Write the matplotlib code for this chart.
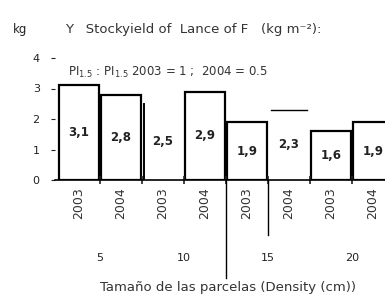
import matplotlib.pyplot as plt

years = ["2003", "2004", "2003", "2004", "2003", "2004", "2003", "2004"]
values = [3.1, 2.8, 2.5, 2.9, 1.9, 2.3, 1.6, 1.9]
groups = ["5", "10", "15", "20"]
outlined = [True, True, False, True, True, False, True, True]

fig = plt.figure(figsize=(3.85, 3.0), dpi=100)
ax = fig.add_axes([55 / 385, 0.4, 330 / 385, 122 / 300])

x = list(range(len(values)))
width = 0.95

# bars: white fill, black outline (two of them drawn without a box)
for xi, v, box in zip(x, values, outlined):
    ax.bar(xi, v, width=width, color="white",
           edgecolor="black" if box else "none", linewidth=1.6)
    ax.text(xi, v / 2, f"{v:.1f}".replace(".", ","), ha="center", va="center",
            fontsize=8.5, fontweight="bold", color="#222")

# the partial outlines on the unboxed bars
ax.plot([2 - width / 2 + 0.03] * 2, [0, values[2]], color="black", lw=1.4)
ax.plot([5 - width / 2 + 0.05, 5 + width / 2 - 0.05], [values[5], values[5]],
        color="black", lw=1.0)

ax.set_xlim(-0.571, 7.29)
ax.set_ylim(0, 4)
ax.set_yticks([0, 1, 2, 3, 4])
ax.tick_params(axis="y", length=3, labelsize=8, colors="#222", pad=8)
ax.set_xticks(x)
ax.set_xticklabels(years, rotation=90, fontsize=9, color="#333")
ax.tick_params(axis="x", length=0, pad=5)
ax.set_xticks([i + 0.5 for i in x[:-1]], minor=True)
ax.tick_params(axis="x", which="minor", length=6, direction="inout",
               width=1.2, color="#222")
for s in ["top", "right", "left"]:
    ax.spines[s].set_visible(False)
ax.spines["bottom"].set_linewidth(1.2)

# group labels under the years
trans = ax.get_xaxis_transform()
for i, g in enumerate(groups):
    ax.text(2 * i + 0.5, -78 / 122, g, transform=trans, ha="center",
            va="center", fontsize=8, color="#222")

# separator lines between groups
ax.plot([3.5, 3.5], [0, -98 / 122], transform=trans, color="black",
        lw=1.0, clip_on=False)
ax.plot([4.5, 4.5], [0, -55 / 122], transform=trans, color="black",
        lw=1.0, clip_on=False)

fig.text(228 / 385, 12 / 300, "Tamaño de las parcelas (Density (cm))",
         ha="center", va="center", fontsize=9.5, color="#333")
fig.text(20 / 385, 270 / 300, "kg", ha="center", va="center",
         fontsize=8.5, color="#222")
fig.text(65 / 385, 270 / 300, "Y   Stockyield of  Lance of F   (kg m⁻²):",
         ha="left", va="center", fontsize=9.5, color="#333")
fig.text(68 / 385, 228 / 300, "PI$_{1.5}$ : PI$_{1.5}$ 2003 = 1 ;  2004 = 0.5",
         ha="left", va="center", fontsize=8.5, color="#333")

fig.savefig("out.png", dpi=100)
